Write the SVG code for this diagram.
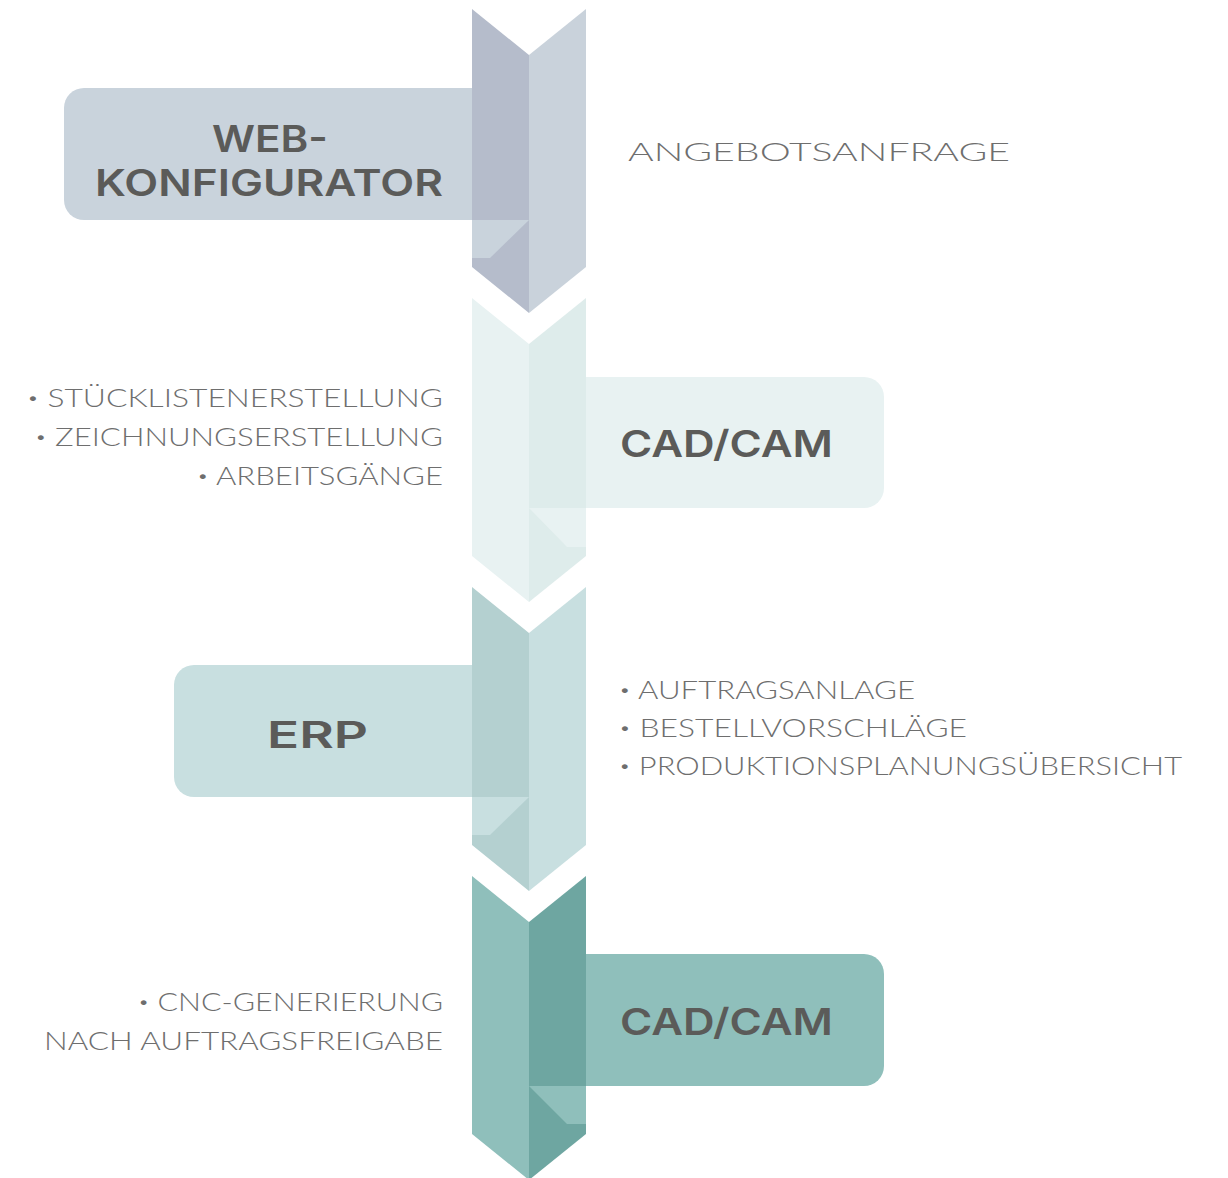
<svg xmlns="http://www.w3.org/2000/svg" width="1228" height="1178" viewBox="0 0 1228 1178">
<style>
.t{font-family:"Inter","DejaVu Sans","Liberation Sans",sans-serif;font-weight:600;fill:#5b5b59;font-size:37px}
.l{font-family:"Lato","Liberation Sans",sans-serif;font-weight:300;fill:#6e6e6e;font-size:25px}
.b{font-size:16px}
</style>
<rect width="1228" height="1178" fill="#ffffff"/>
<g id="step1">
<path d="M84,88 H529 V220 H84 A20,20 0 0 1 64,200 V108 A20,20 0 0 1 84,88 Z" fill="#c9d3dc"/>
<polygon points="472,9 529,55 529,313 472,267" fill="#b5bccb"/>
<polygon points="529,55 586,9 586,267 529,313" fill="#c9d2db"/>
<polygon points="472,220 529,220 490,258 472,258" fill="#c9d3dc"/>
<text class="t" x="270" y="152" text-anchor="middle" textLength="116" lengthAdjust="spacingAndGlyphs">WEB-</text>
<text class="t" x="269" y="196" text-anchor="middle" textLength="348" lengthAdjust="spacingAndGlyphs">KONFIGURATOR</text>
<text class="l" x="628" y="161" textLength="382" lengthAdjust="spacingAndGlyphs">ANGEBOTSANFRAGE</text>
</g>
<g id="step2">
<path d="M529,377 H864 A20,20 0 0 1 884,397 V488 A20,20 0 0 1 864,508 H529 Z" fill="#e8f2f2"/>
<polygon points="472,298 529,344 529,602 472,556" fill="#e8f2f2"/>
<polygon points="529,344 586,298 586,556 529,602" fill="#deeceb"/>
<polygon points="529,508 586,508 586,547 567,547" fill="#e8f2f2"/>
<text class="t" x="620" y="457" textLength="213" lengthAdjust="spacingAndGlyphs">CAD/CAM</text>
<text class="l" x="443" y="407" text-anchor="end" textLength="416" lengthAdjust="spacingAndGlyphs"><tspan class="b" dy="-4">•</tspan><tspan dy="4"> STÜCKLISTENERSTELLUNG</tspan></text>
<text class="l" x="443" y="446" text-anchor="end" textLength="408" lengthAdjust="spacingAndGlyphs"><tspan class="b" dy="-4">•</tspan><tspan dy="4"> ZEICHNUNGSERSTELLUNG</tspan></text>
<text class="l" x="443" y="485" text-anchor="end" textLength="246" lengthAdjust="spacingAndGlyphs"><tspan class="b" dy="-4">•</tspan><tspan dy="4"> ARBEITSGÄNGE</tspan></text>
</g>
<g id="step3">
<path d="M194,665 H529 V797 H194 A20,20 0 0 1 174,777 V685 A20,20 0 0 1 194,665 Z" fill="#c8dfe0"/>
<polygon points="472,587 529,633 529,891 472,845" fill="#b4d0d0"/>
<polygon points="529,633 586,587 586,845 529,891" fill="#c8dfe0"/>
<polygon points="472,797 529,797 490,835 472,835" fill="#c8dfe0"/>
<text class="t" x="267" y="748" textLength="101" lengthAdjust="spacingAndGlyphs">ERP</text>
<text class="l" x="619" y="699" textLength="296" lengthAdjust="spacingAndGlyphs"><tspan class="b" dy="-4">•</tspan><tspan dy="4"> AUFTRAGSANLAGE</tspan></text>
<text class="l" x="619" y="737" textLength="348" lengthAdjust="spacingAndGlyphs"><tspan class="b" dy="-4">•</tspan><tspan dy="4"> BESTELLVORSCHLÄGE</tspan></text>
<text class="l" x="619" y="775" textLength="563" lengthAdjust="spacingAndGlyphs"><tspan class="b" dy="-4">•</tspan><tspan dy="4"> PRODUKTIONSPLANUNGSÜBERSICHT</tspan></text>
</g>
<g id="step4">
<path d="M529,954 H864 A20,20 0 0 1 884,974 V1066 A20,20 0 0 1 864,1086 H529 Z" fill="#8fbfbb"/>
<polygon points="472,876 529,922 529,1180 472,1134" fill="#8fbfbb"/>
<polygon points="529,922 586,876 586,1134 529,1180" fill="#6ea6a1"/>
<polygon points="529,1086 586,1086 586,1124 567,1124" fill="#8fbfbb"/>
<text class="t" x="620" y="1035" textLength="213" lengthAdjust="spacingAndGlyphs">CAD/CAM</text>
<text class="l" x="443" y="1011" text-anchor="end" textLength="305" lengthAdjust="spacingAndGlyphs"><tspan class="b" dy="-4">•</tspan><tspan dy="4"> CNC-GENERIERUNG</tspan></text>
<text class="l" x="443" y="1050" text-anchor="end" textLength="399" lengthAdjust="spacingAndGlyphs">NACH AUFTRAGSFREIGABE</text>
</g>
<g id="connectors"/>
</svg>
